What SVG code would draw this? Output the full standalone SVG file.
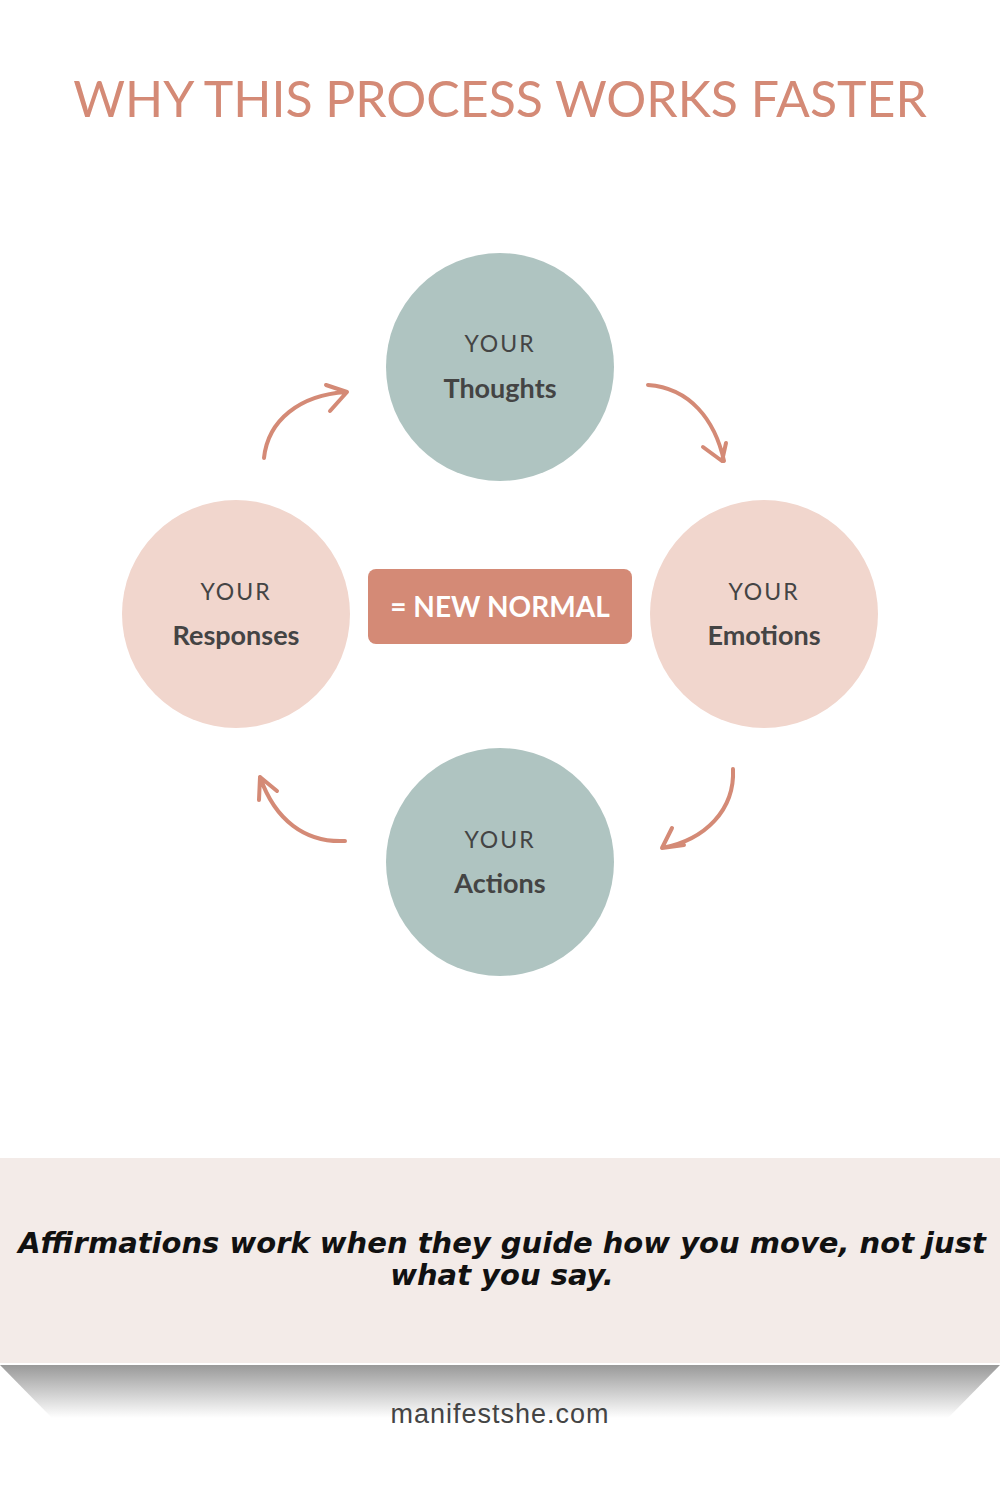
<svg xmlns="http://www.w3.org/2000/svg" width="1000" height="1500" viewBox="0 0 1000 1500">
<style>
.small{font-family:Lato,"Liberation Sans",sans-serif;font-size:23px;fill:#444;letter-spacing:2px;text-anchor:middle}
.big{font-family:Lato,"Liberation Sans",sans-serif;font-size:27px;font-weight:bold;fill:#444;text-anchor:middle}
.arr{fill:none;stroke:#d48a76;stroke-width:4;stroke-linecap:round;stroke-linejoin:round}
</style>
<defs>
<linearGradient id="sh" x1="0" y1="0" x2="0" y2="1">
<stop offset="0" stop-color="#999"/><stop offset="1" stop-color="#fff"/>
</linearGradient>
</defs>
<rect width="1000" height="1500" fill="#fff"/>
<text x="500" y="117" text-anchor="middle" font-family="Lato,'Liberation Sans',sans-serif" font-size="50" fill="#d48a76">WHY THIS PROCESS WORKS FASTER</text>
<g id="thoughts"><circle cx="500" cy="367" r="114" fill="#afc4c1"/><text class="small" x="500" y="352">YOUR</text><text class="big" x="500" y="398">Thoughts</text></g>
<g id="emotions"><circle cx="764" cy="614" r="114" fill="#f1d6cd"/><text class="small" x="764" y="600">YOUR</text><text class="big" x="764" y="645">Emotions</text></g>
<g id="actions"><circle cx="500" cy="862" r="114" fill="#afc4c1"/><text class="small" x="500" y="848">YOUR</text><text class="big" x="500" y="893">Actions</text></g>
<g id="responses"><circle cx="236" cy="614" r="114" fill="#f1d6cd"/><text class="small" x="236" y="600">YOUR</text><text class="big" x="236" y="645">Responses</text></g>
<g id="center"><rect x="368" y="569" width="264" height="75" rx="8" fill="#d48a76"/><text x="500" y="617" text-anchor="middle" font-family="Lato,'Liberation Sans',sans-serif" font-size="28" font-weight="bold" fill="#fff">= NEW NORMAL</text></g>
<g id="connectors">
<path class="arr" d="M264,458 C268,420 300,395 346,392 M326,385 L347,392 L330,411"/>
<path class="arr" d="M648,385 C690,388 715,420 724,461 M703,447 L722,461 L726,443"/>
<path class="arr" d="M733,769 C735,810 705,840 662,848 M672,828 L662,848 L684,845"/>
<path class="arr" d="M345,841 C305,843 275,820 260,777 M259,800 L260,777 L277,791"/>
</g>
<rect x="0" y="1158" width="1000" height="205" fill="#f3ebe8"/>
<polygon points="0,1365 1000,1365 948,1418 52,1418" fill="url(#sh)"/>
<text x="502" y="1253" text-anchor="middle" font-family="'DejaVu Sans',sans-serif" font-size="29" font-weight="bold" font-style="italic" fill="#111">Affirmations work when they guide how you move, not just</text>
<text x="502" y="1285" text-anchor="middle" font-family="'DejaVu Sans',sans-serif" font-size="29" font-weight="bold" font-style="italic" fill="#111">what you say.</text>
<text x="500" y="1423" text-anchor="middle" font-family="'Liberation Sans',sans-serif" font-size="27" fill="#444" letter-spacing="1">manifestshe.com</text>
</svg>
